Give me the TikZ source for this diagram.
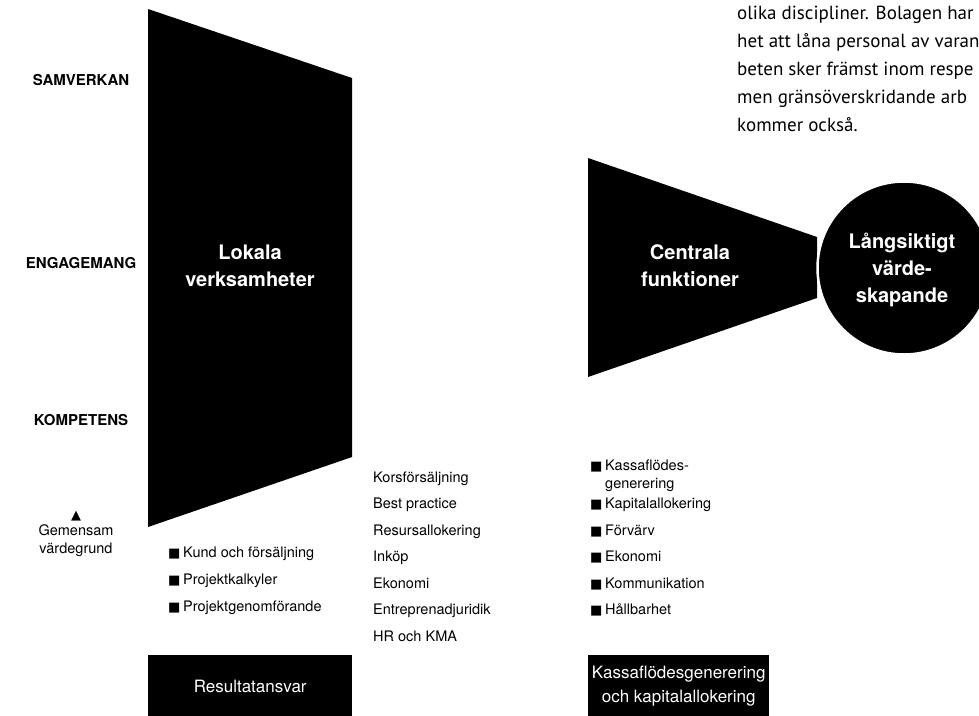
\documentclass[tikz,border=0pt]{standalone}
\usepackage{fontspec}
\setmainfont{TeX Gyre Heros}
\newfontfamily\parafont{PT Sans}
\newfontfamily\symfont{DejaVu Sans}
\usetikzlibrary{positioning}
\newcommand{\bull}{\makebox[15pt][l]{\symfont\fontsize{13}{13}\selectfont■}}

\begin{document}
\begin{tikzpicture}[x=1pt,y=-1pt,
  item/.style={font=\fontsize{14.5}{18}\selectfont,anchor=base west,inner sep=0pt,align=left},
  level/.style={font=\fontsize{15}{16}\selectfont\bfseries},
  title/.style={text=white,font=\fontsize{20}{27}\selectfont\bfseries,align=center},
  blackbox/.style={fill=black,text=white,anchor=north west,inner sep=0pt,
    font=\fontsize{17}{24}\selectfont,align=center},
  para/.style={font=\parafont\fontsize{19}{28}\selectfont,anchor=base west,inner sep=0pt}]
\useasboundingbox (0,0) rectangle (979,715);
\clip (0,0) rectangle (979,715);

\foreach \txt/\y [count=\i] in {olika discipliner. Bolagen har/19,het att låna personal av varan/47,
  beten sker främst inom respe/75,men gränsöverskridande arb/103,kommer också./131}
\node[para] (para\i) at (737,\y) {\txt};

\fill (148,9) -- (352,78) -- (352,457) -- (148,527) -- cycle;
\node[title] (lokala) at (250,266) {Lokala\\verksamheter};

\fill (588,158) -- (817,237) -- (817,298) -- (588,377) -- cycle;
\node[title] (centrala) at (690,266) {Centrala\\funktioner};

\node[circle,fill=black,draw=white,line width=2.5pt,minimum size=173pt,inner sep=0pt] (varde) at (904,268) {};
\node[title] (vardetxt) at (902,270) {Långsiktigt\\värde-\\skapande};

\foreach \name/\txt/\y in {samverkan/SAMVERKAN/80,engagemang/ENGAGEMANG/263,kompetens/KOMPETENS/420}
\node[level] (\name) at (81,\y) {\txt};

\node[font=\fontsize{14.5}{18}\selectfont,align=center,inner sep=0pt] (grund) at (76,541) {Gemensam\\värdegrund};
\node[font=\symfont\fontsize{13}{13}\selectfont,inner sep=0pt,above=4pt of grund] (tri) {▲};

\foreach \txt [count=\i] in {Kund och försäljning,Projektkalkyler,Projektgenomförande}
\node[item] (lokal\i) at (168,530+27*\i) {\bull\txt};

\foreach \txt [count=\i] in {Korsförsäljning,Best practice,Resursallokering,Inköp,Ekonomi,Entreprenadjuridik,HR och KMA}
\node[item] (gemen\i) at (373,455.5+26.5*\i) {\txt};

\node[item] (central1) at (590,488) {\bull Kassaflödes-\\\hspace*{15pt}generering};
\foreach \txt [count=\i from 2] in {Kapitalallokering,Förvärv,Ekonomi,Kommunikation,Hållbarhet}
\node[item] (central\i) at (590,482+26.5*\i-26.5) {\bull\txt};

\node[blackbox,minimum width=204pt,minimum height=62pt] (resultat) at (148,655) {Resultatansvar};
\node[blackbox,minimum width=181pt,minimum height=62pt] (kassa) at (588,655) {Kassaflödesgenerering\\och kapitalallokering};
\end{tikzpicture}
\end{document}
